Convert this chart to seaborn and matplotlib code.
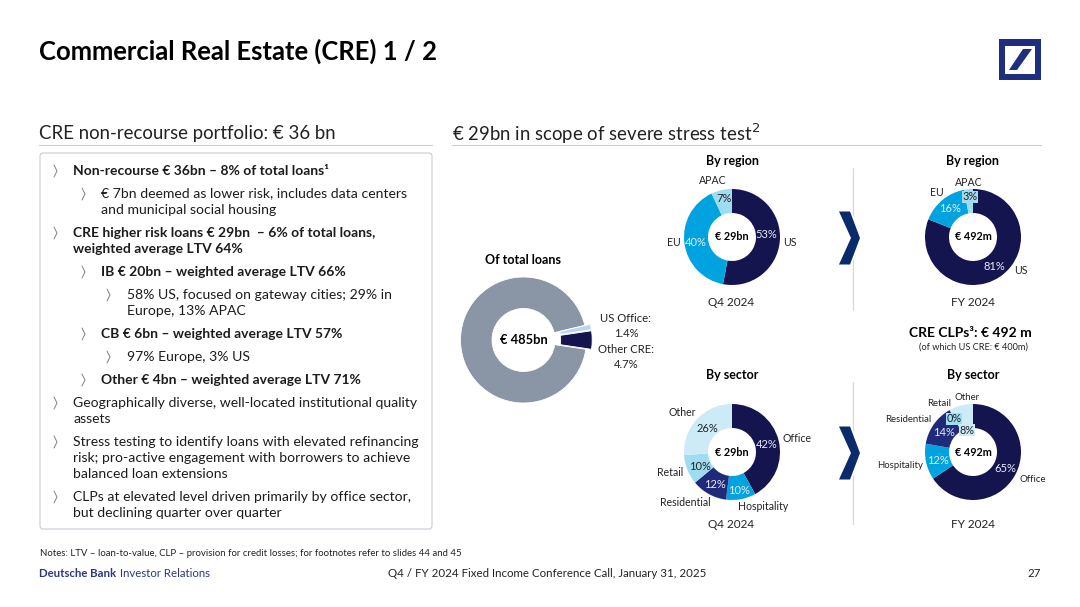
import matplotlib
matplotlib.use("Agg")
import matplotlib.pyplot as plt
from matplotlib.patches import FancyBboxPatch, Polygon
import seaborn as sns

sns.set_theme(style="white")
plt.rcParams['font.family'] = ['Lato', 'DejaVu Sans']

NAVY, MID, BLUE, SKY, PALE = "#14144f", "#1f2a7a", "#00a3e0", "#9fdcf0", "#cdeaf7"
GREY, LIGHT = "#8a96a5", "#b9d6ee"

region_labels = ["US", "EU", "APAC"]
region_q4 = [53, 40, 7]
region_fy = [81, 16, 3]
sector_labels = ["Office", "Hospitality", "Residential", "Retail", "Other"]
sector_q4 = [42, 10, 12, 10, 26]
sector_fy = [65, 12, 14, 0, 8]
loan_labels = ["Other loans", "US Office", "Other CRE"]
loan_shares = [93.9, 1.4, 4.7]

W, H = 1080, 607
fig = plt.figure(figsize=(W / 100, H / 100), dpi=100, facecolor="white")
bg = fig.add_axes([0, 0, 1, 1])
bg.set_xlim(0, W); bg.set_ylim(H, 0); bg.axis("off")
bg.set_zorder(10)

def T(x, y, s, size=9, weight="normal", color="#222222", ha="left", va="center", **kw):
    bg.text(x, y, s, fontsize=size, fontweight=weight, color=color, ha=ha, va=va, zorder=5, **kw)

def donut(cx, cy, r, values, colors, hole=0.5, start=90, explode=None, pad=1.0, edge=0):
    R = r * pad
    ax = fig.add_axes([(cx - R) / W, 1 - (cy + R) / H, 2 * R / W, 2 * R / H])
    ax.pie(values, colors=colors, startangle=start, counterclock=False, radius=1,
           explode=explode, wedgeprops=dict(width=1 - hole, linewidth=edge, edgecolor="white"))
    ax.set_xlim(-pad, pad); ax.set_ylim(-pad, pad)
    ax.patch.set_alpha(0)
    return ax

# header
T(39, 51, "Commercial Real Estate (CRE) 1 / 2", 18.45, "bold", "#000000")
bg.add_patch(plt.Rectangle((999, 39), 42, 41, fc="#1f2f80", ec="none"))
bg.add_patch(plt.Rectangle((1005, 46), 30, 28, fc="white", ec="none"))
bg.add_patch(Polygon([(1009, 70), (1017, 70), (1032, 49), (1023, 49)], fc="#1f2f80", ec="none"))

T(39, 134, "CRE non-recourse portfolio: € 36 bn", 13.4, color="#222222")
bg.plot([39, 432], [144.5, 144.5], color="#c8ccd5", lw=0.8)
T(452, 134, "€ 29bn in scope of severe stress test$^{2}$", 13.4, color="#222222")
bg.plot([452, 1041], [144.5, 144.5], color="#c8ccd5", lw=0.8)

# text box
bg.add_patch(FancyBboxPatch((40, 153), 392, 376, boxstyle="round,pad=0,rounding_size=3",
                            fc="white", ec="#c0c5ce", lw=0.7))
bullets = [
    (170, 0, "Non-recourse € 36bn – 8% of total loans¹", "bold"),
    (193, 1, "€ 7bn deemed as lower risk, includes data centers", "normal"),
    (209, None, "and municipal social housing", "normal"),
    (232, 0, "CRE higher risk loans € 29bn  – 6% of total loans,", "bold"),
    (248, None, "weighted average LTV 64%", "bold"),
    (271, 1, "IB € 20bn – weighted average LTV 66%", "bold"),
    (294, 2, "58% US, focused on gateway cities; 29% in", "normal"),
    (310, None, "Europe, 13% APAC", "normal"),
    (333, 1, "CB € 6bn – weighted average LTV 57%", "bold"),
    (356, 2, "97% Europe, 3% US", "normal"),
    (379, 1, "Other € 4bn – weighted average LTV 71%", "bold"),
    (402, 0, "Geographically diverse, well-located institutional quality", "normal"),
    (418, None, "assets", "normal"),
    (441, 0, "Stress testing to identify loans with elevated refinancing", "normal"),
    (457, None, "risk; pro-active engagement with borrowers to achieve", "normal"),
    (473, None, "balanced loan extensions", "normal"),
    (496, 0, "CLPs at elevated level driven primarily by office sector,", "normal"),
    (512, None, "but declining quarter over quarter", "normal"),
]
indent = [73, 101, 127]
current = 0
for y, lvl, s, w in bullets:
    if lvl is not None:
        current = lvl
        cx = [54, 82, 107][lvl]
        bg.plot([cx, cx + 3, cx], [y - 5, y + 1, y + 7], color="#7a818c", lw=0.7, zorder=4)
    T(indent[current], y + 0.6, s, 10.0 if w == "bold" else 10.1, w, "#1c1c1c")

# big donut
donut(523.5, 340, 63, loan_shares, [GREY, LIGHT, NAVY], hole=0.5, start=-8.5,
      explode=[0, 0.09, 0.09], pad=1.2, edge=0.6)
T(524, 340, "€ 485bn", 9.3, "bold", "#000000", ha="center")
T(523, 260, "Of total loans", 9, "bold", "#000000", ha="center")
T(626, 326, "US Office:\n1.4%", 8.1, ha="center", linespacing=1.35)
T(626, 357, "Other CRE:\n4.7%", 8.1, ha="center", linespacing=1.35)

# small donuts
c3 = [NAVY, BLUE, SKY]
c5 = [NAVY, BLUE, MID, SKY, PALE]
donut(732, 237, 48, region_q4, c3)
donut(973, 237, 48, region_fy, c3)
donut(732, 452, 48, sector_q4, c5)
donut(973, 452, 48, sector_fy, c5)

for x, y, s in [(732, 161, "By region"), (973, 161, "By region"), (732, 375, "By sector"), (973, 375, "By sector")]:
    T(x, y, s, 9, "bold", "#000000", ha="center")
for x, y, s in [(731, 303, "Q4 2024"), (973, 303, "FY 2024"), (731, 524, "Q4 2024"), (973, 524, "FY 2024")]:
    T(x, y, s, 8.5, ha="center")
for x, y, s in [(732, 237, "€ 29bn"), (973, 237, "€ 492m"), (732, 452, "€ 29bn"), (973, 452, "€ 492m")]:
    T(x, y, s, 7.8, "bold", "#000000", ha="center")

# slice values
W_, D_ = "#e8edf5", "#222222"
for x, y, s, c in [(766, 234, "53%", W_), (696, 242, "40%", W_), (724, 199, "7%", D_),
                   (994, 267, "81%", W_), (950, 208, "16%", W_),
                   (767, 444, "42%", W_), (739, 490, "10%", W_), (715, 484, "12%", W_),
                   (700, 466, "10%", D_), (707, 429, "26%", D_),
                   (1005, 469, "65%", W_), (938, 461, "12%", W_), (944, 433, "14%", W_)]:
    T(x, y, s, 8, color=c, ha="center")
for x, y, s, box in [(970, 197, "3%", SKY), (954, 419, "0%", SKY), (967, 430, "8%", PALE)]:
    T(x, y, s, 7.8, color=D_, ha="center",
      bbox=dict(boxstyle="square,pad=0.08", fc=box, ec="none"))

# slice names
for x, y, s in [(790, 242, "US"), (674, 242, "EU"), (713, 181, "APAC"),
                (1021, 271, "US"), (937, 192, "EU"), (969, 182, "APAC"),
                (797, 438, "Office"), (763, 507, "Hospitality"), (685, 502, "Residential"),
                (670, 473, "Retail"), (682, 413, "Other")]:
    T(x, y, s, 7.6, ha="center")
for x, y, s in [(1033, 479, "Office"), (900, 466, "Hospitality"), (908, 420, "Residential"),
                (939, 403, "Retail"), (967, 398, "Other")]:
    T(x, y, s, 6.9, ha="center")

T(970, 333, "CRE CLPs³: € 492 m", 10, "bold", "#000000", ha="center")
T(973, 347, "(of which US CRE: € 400m)", 6.6, ha="center")

# dividers and chevrons
for x, y0, y1 in [(852.5, 168, 310), (852.5, 382, 524)]:
    bg.plot([x, x], [y0, y1], color="#d5d8de", lw=0.9, zorder=2)
for cy in (238, 453):
    chevron = [(839, cy - 26.5), (850, cy - 26.5), (860, cy), (850, cy + 26.5), (839, cy + 26.5), (851, cy)]
    bg.add_patch(Polygon(chevron, fc="#0b2a6b", ec="white", lw=2.5, zorder=3))
    bg.add_patch(Polygon(chevron, fc="#0b2a6b", ec="none", zorder=4))

# footer
T(40, 554, "Notes: LTV – loan-to-value, CLP – provision for credit losses; for footnotes refer to slides 44 and 45", 6.95)
T(39, 573.5, "Deutsche Bank", 8.2, "bold", "#2b3a80")
T(120, 573.5, "Investor Relations", 8.2, color="#2b3a80")
T(547, 573.5, "Q4 / FY 2024 Fixed Income Conference Call, January 31, 2025", 8.25, ha="center")
T(1041, 573.5, "27", 8.3, ha="right")

fig.savefig("out.png", dpi=100)
